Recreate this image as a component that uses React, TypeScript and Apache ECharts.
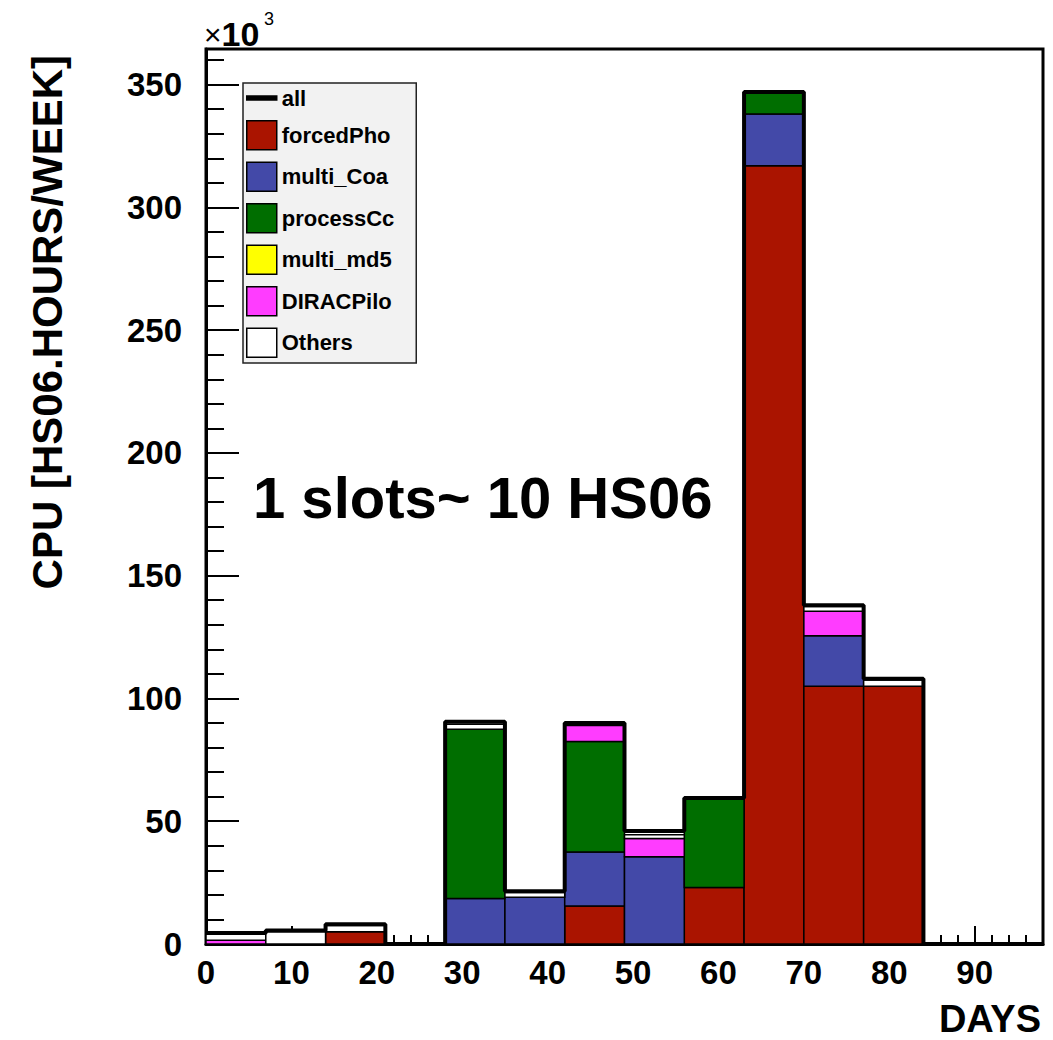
import React, { useEffect, useRef } from "react";
import * as echarts from "echarts";

// Weekly bins (days)
const binStarts = [0, 7, 14, 21, 28, 35, 42, 49, 56, 63, 70, 77, 84, 91];
const binWidth = 7;

// CPU per week, in units of 10^3 HS06 hours
const forcedPho = [0, 0, 5, 0, 0, 0, 15.5, 0, 23, 317, 105, 105, 0, 0];
const multiCoa = [0, 0, 0, 0, 18.5, 19, 22, 35.5, 0, 21, 20.5, 0, 0, 0];
const processCc = [0, 0, 0, 0, 69, 0, 45, 0, 36, 8.5, 0, 0, 0, 0];
const multiMd5 = [0, 0, 0, 0, 0, 0, 0, 0, 0, 0, 0, 0, 0, 0];
const diracPilo = [1.5, 0, 0, 0, 0, 0, 6.5, 7.5, 0, 0, 10, 0, 0, 0];
const others = [2.5, 5, 2.5, 0, 2, 2, 0, 1.5, 0, 0, 2, 2.5, 0, 0];
const allTotals = [4.5, 5.5, 8, 0, 90.5, 21.5, 90, 46, 59.5, 347, 138, 108, 0, 0];

const seriesNames = ["forcedPho", "multi_Coa", "processCc", "multi_md5", "DIRACPilo", "Others"];
const seriesColors = ["#aa1400", "#4349a8", "#006e00", "#ffff00", "#ff3cff", "#ffffff"];
const stackValues = [forcedPho, multiCoa, processCc, multiMd5, diracPilo, others];

const xMin = 0;
const xMax = 98;
const yMin = 0;
const yMax = 364.5;

const FONT = "'Liberation Sans', Arial, Helvetica, sans-serif";

function buildOption() {
  const bottoms = binStarts.map(() => 0);
  const custom = stackValues.map((vals, si) => {
    const data: number[][] = [];
    vals.forEach((v, i) => {
      if (v > 0) data.push([binStarts[i], binStarts[i] + binWidth, bottoms[i], bottoms[i] + v]);
      bottoms[i] += v;
    });
    const color = seriesColors[si];
    return {
      type: "custom",
      name: seriesNames[si],
      xAxisIndex: 0,
      yAxisIndex: 0,
      itemStyle: { color, borderColor: "#000", borderWidth: 1.5 },
      encode: { x: [0, 1], y: [2, 3] },
      data,
      z: 2,
      renderItem: (params: any, api: any) => {
        const p0 = api.coord([api.value(0), api.value(3)]);
        const p1 = api.coord([api.value(1), api.value(2)]);
        return {
          type: "rect",
          shape: { x: p0[0], y: p0[1], width: p1[0] - p0[0], height: p1[1] - p0[1] },
          style: { fill: color, stroke: "#000", lineWidth: 1.5 },
        };
      },
    };
  });

  const allData = binStarts.map((s, i) => [s, allTotals[i]]);
  allData.push([xMax, allTotals[allTotals.length - 1]]);

  const axisLabelStyle = { color: "#000", fontFamily: FONT, fontWeight: "bold", fontSize: 33 };

  return {
    animation: false,
    backgroundColor: "#ffffff",
    grid: {
      left: 206,
      top: 49,
      width: 837,
      height: 895,
      show: true,
      borderColor: "#000",
      borderWidth: 3,
      backgroundColor: "#fff",
      containLabel: false,
    },
    legend: {
      left: 243,
      top: 83,
      orient: "vertical",
      backgroundColor: "#f2f2f2",
      borderColor: "#222",
      borderWidth: 1.5,
      padding: [4, 22, 5, 3],
      itemGap: 11,
      itemWidth: 30,
      itemHeight: 29,
      selectedMode: false,
      itemStyle: { borderColor: "#000", borderWidth: 1.5 },
      textStyle: { color: "#000", fontFamily: FONT, fontWeight: "bold", fontSize: 22 },
      data: [
        { name: "all", icon: "path://M0,0H30V4H0Z" },
        ...seriesNames.map((n) => ({ name: n, icon: "rect" })),
      ],
    },
    xAxis: [
      {
        type: "value",
        min: xMin,
        max: xMax,
        interval: 10,
        axisLine: { show: true, lineStyle: { color: "#000", width: 3 } },
        axisTick: { show: true, inside: true, length: 18, lineStyle: { color: "#000", width: 2 } },
        axisLabel: { ...axisLabelStyle, margin: 12, showMaxLabel: false },
        splitLine: { show: false },
      },
      {
        type: "value",
        min: xMin,
        max: xMax,
        interval: 2,
        position: "bottom",
        axisLine: { show: false },
        axisTick: { show: true, inside: true, length: 9, lineStyle: { color: "#000", width: 2 } },
        axisLabel: { show: false },
        splitLine: { show: false },
      },
    ],
    yAxis: [
      {
        type: "value",
        min: yMin,
        max: yMax,
        interval: 50,
        axisLine: { show: true, lineStyle: { color: "#000", width: 3 } },
        axisTick: { show: true, inside: true, length: 33, lineStyle: { color: "#000", width: 2 } },
        axisLabel: { ...axisLabelStyle, margin: 24, showMaxLabel: false },
        splitLine: { show: false },
      },
      {
        type: "value",
        min: yMin,
        max: yMax,
        interval: 10,
        position: "left",
        axisLine: { show: false },
        axisTick: { show: true, inside: true, length: 18, lineStyle: { color: "#000", width: 2 } },
        axisLabel: { show: false },
        splitLine: { show: false },
      },
    ],
    graphic: [
      {
        type: "text",
        x: 47,
        y: 55,
        rotation: Math.PI / 2,
        style: {
          text: "CPU [HS06.HOURS/WEEK]",
          fill: "#000",
          font: `bold 42px ${FONT}`,
          textAlign: "right",
          textVerticalAlign: "middle",
        },
      },
      {
        type: "text",
        x: 1041,
        y: 1019,
        style: {
          text: "DAYS",
          fill: "#000",
          font: `bold 38px ${FONT}`,
          textAlign: "right",
          textVerticalAlign: "middle",
        },
      },
      {
        type: "text",
        x: 204,
        y: 34,
        style: {
          text: "{a|×}{b|10}",
          textVerticalAlign: "middle",
          rich: {
            a: { fontFamily: FONT, fontSize: 30, fontWeight: "normal", fill: "#000" },
            b: { fontFamily: FONT, fontSize: 34, fontWeight: "bold", fill: "#000" },
          },
        },
      },
      {
        type: "text",
        x: 264,
        y: 19,
        style: {
          text: "3",
          fill: "#000",
          font: `18px ${FONT}`,
          textVerticalAlign: "middle",
        },
      },
      {
        type: "text",
        x: 253,
        y: 497,
        style: {
          text: "1 slots~ 10 HS06",
          fill: "#000",
          font: `bold 58px ${FONT}`,
          textVerticalAlign: "middle",
        },
      },
    ],
    series: [
      ...custom,
      {
        type: "line",
        name: "all",
        xAxisIndex: 0,
        yAxisIndex: 0,
        step: "end",
        data: allData,
        symbol: "none",
        lineStyle: { color: "#000", width: 4 },
        itemStyle: { color: "#000" },
        z: 5,
      },
    ],
  };
}

export default function App() {
  const ref = useRef<HTMLDivElement>(null);
  useEffect(() => {
    document.body.style.margin = "0";
    if (!ref.current) return;
    const chart = echarts.init(ref.current, undefined, { renderer: "svg" });
    chart.setOption(buildOption() as any);
    return () => {
      chart.dispose();
    };
  }, []);
  return <div ref={ref} style={{ width: 1053, height: 1040, background: "#fff" }} />;
}
